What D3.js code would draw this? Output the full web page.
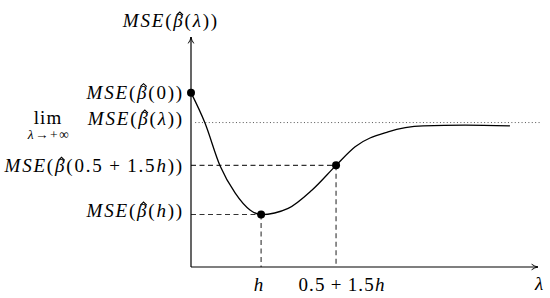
<!DOCTYPE html>
<html>
<head>
<meta charset="utf-8">
<script src="https://cdn.jsdelivr.net/npm/d3@7"></script>
<style>
  body { margin: 0; background: #fff; }
  text { font-family: "Liberation Serif", serif; font-size: 19px; fill: #000; }
</style>
</head>
<body>
<script>
// curve samples (arbitrary units)
var curveLambda = [0, 4.0, 8.4, 12.7, 17.0, 20.2, 28.0, 34.9, 41.8, 47.3, 56.8, 66.9, 79.0, 91.9];
var curveMse    = [75.8, 62.7, 43.9, 32.2, 24.8, 22.8, 25.5, 33.5, 44.2, 52.3, 58.8, 61.4, 61.7, 61.4];

// highlighted points: lambda = 0, h, 0.5 + 1.5h
var pointLambda = [0, 20.2, 41.8];
var pointMse    = [75.8, 22.8, 44.2];
var limitMse = 62.8;

// tick labels (each one is a list of [text, italic] pieces)
var xTickLabels = [
    [["h", true]],
    [["0.5\u2009+\u20091.5", false], ["h", true]]
];
var argLabels = [
    [["0", false]],
    [["h", true]],
    [["0.5\u2009+\u20091.5", false], ["h", true]]
];

var width = 550,
    height = 298;
var ls = 1.8; //letter spacing for the math labels

var svg = d3.select("body")
    .append("svg")
    .attr("width", width)
    .attr("height", height);

var x = d3.scaleLinear().domain([0, 100]).range([191, 538]);
var y = d3.scaleLinear().domain([0, 100]).range([267, 37]);

//arrow head like tikz "->"
svg.append("defs").append("marker")
    .attr("id", "arrow")
    .attr("viewBox", "0 0 10 10")
    .attr("refX", 9).attr("refY", 5)
    .attr("markerWidth", 8).attr("markerHeight", 8)
    .attr("markerUnits", "userSpaceOnUse")
    .attr("orient", "auto")
    .append("path")
    .attr("d", "M1,1.5 Q5,4.5 9,5 Q5,5.5 1,8.5")
    .attr("fill", "none")
    .attr("stroke", "#000")
    .attr("stroke-width", 1.2);

//dotted limit line
svg.append("line")
    .attr("x1", x(1.2)).attr("x2", x(101))
    .attr("y1", y(limitMse)).attr("y2", y(limitMse))
    .attr("stroke", "#555")
    .attr("stroke-width", 1)
    .attr("stroke-dasharray", "1,2.4");

//dashed guide lines for h and 0.5+1.5h
var guides = svg.append("g")
    .attr("stroke", "#333")
    .attr("stroke-width", 1.1)
    .attr("stroke-dasharray", "5,3.5");
[1, 2].forEach(function(i){
    guides.append("line")
        .attr("x1", x(0)).attr("x2", x(pointLambda[i]))
        .attr("y1", y(pointMse[i])).attr("y2", y(pointMse[i]));
    guides.append("line")
        .attr("x1", x(pointLambda[i])).attr("x2", x(pointLambda[i]))
        .attr("y1", y(pointMse[i])).attr("y2", y(0));
});

//axes
svg.append("line")
    .attr("x1", x(0)).attr("x2", x(100))
    .attr("y1", y(0)).attr("y2", y(0))
    .attr("stroke", "#000").attr("stroke-width", 1.2)
    .attr("marker-end", "url(#arrow)");
svg.append("line")
    .attr("x1", x(0)).attr("x2", x(0))
    .attr("y1", y(0)).attr("y2", y(100))
    .attr("stroke", "#000").attr("stroke-width", 1.2)
    .attr("marker-end", "url(#arrow)");

//the MSE curve
var line = d3.line()
    .x(function(d, i){ return x(curveLambda[i]); })
    .y(function(d){ return y(d); })
    .curve(d3.curveMonotoneX);

svg.append("path")
    .datum(curveMse)
    .attr("d", line)
    .attr("fill", "none")
    .attr("stroke", "#000")
    .attr("stroke-width", 1.3);

svg.selectAll(".pt")
    .data(pointLambda)
    .enter()
    .append("circle")
    .attr("class", "pt")
    .attr("cx", function(d){ return x(d); })
    .attr("cy", function(d, i){ return y(pointMse[i]); })
    .attr("r", 4);

//helpers for math-ish labels
function addPieces(t, pieces){
    pieces.forEach(function(p){
        t.append("tspan")
            .attr("font-style", p[1] ? "italic" : "normal")
            .text(p[0]);
    });
}
function mseLabel(xPos, yPos, arg, anchor){
    var t = svg.append("text")
        .attr("x", xPos).attr("y", yPos)
        .attr("text-anchor", anchor || "end")
        .style("letter-spacing", ls + "px");
    addPieces(t, [["MSE", true], ["(", false], ["\u03b2", true], ["(", false]]);
    addPieces(t, arg);
    addPieces(t, [["))", false]]);
    //hat over beta
    var box = t.node().getExtentOfChar(4);
    var cx = box.x + (box.width - ls) / 2 + 1.8;
    var top = yPos - 15;
    svg.append("path")
        .attr("d", "M" + (cx - 3.2) + "," + (top + 3) + " L" + cx + "," + top + " L" + (cx + 3.2) + "," + (top + 3))
        .attr("fill", "none")
        .attr("stroke", "#000")
        .attr("stroke-width", 1.1);
    return t;
}

//y axis title
mseLabel(219, 27, [["\u03bb", true]]);

//left labels
var labelDy = [6, 2.5, 7];
[0, 1, 2].forEach(function(i){
    mseLabel(184, y(pointMse[i]) + labelDy[i], argLabels[i]);
});

//limit label
mseLabel(184, y(limitMse) + 2.5, [["\u03bb", true]]);
svg.append("text")
    .attr("x", 48).attr("y", y(limitMse) + 1.5)
    .attr("text-anchor", "middle")
    .style("font-size", "19px")
    .style("letter-spacing", "1px")
    .text("lim");
svg.append("text")
    .attr("x", 49).attr("y", y(limitMse) + 16)
    .attr("text-anchor", "middle")
    .style("font-size", "13.5px")
    .style("letter-spacing", "1.5px")
    .call(function(t){
        addPieces(t, [["\u03bb", true], ["\u2192+\u221e", false]]);
    });

//x tick labels
[1, 2].forEach(function(i, k){
    var t = svg.append("text")
        .attr("x", x(pointLambda[i]) + (k ? 6 : -2))
        .attr("y", 291)
        .attr("text-anchor", "middle")
        .style("letter-spacing", "1.2px");
    addPieces(t, xTickLabels[k]);
});

//x axis title
svg.append("text")
    .attr("x", 539).attr("y", 290)
    .attr("text-anchor", "middle")
    .attr("font-style", "italic")
    .text("\u03bb");
</script>
</body>
</html>
